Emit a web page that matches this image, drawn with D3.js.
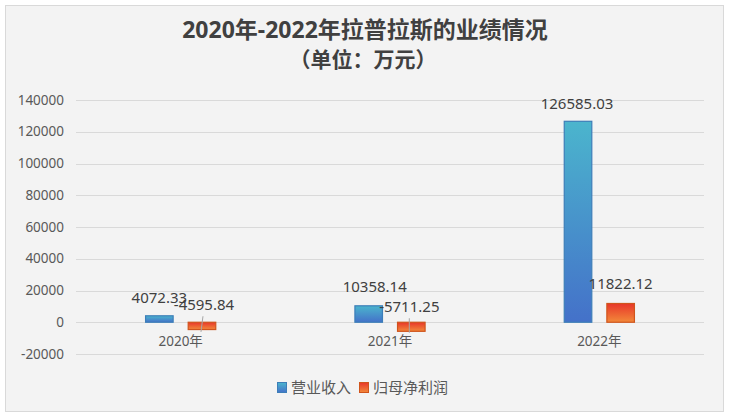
<!DOCTYPE html>
<html><head><meta charset="utf-8">
<script src="https://cdn.jsdelivr.net/npm/d3@7"></script>
<style>
html,body{margin:0;padding:0;background:#fff;}
svg{display:block;}
text{font-family:"Noto Sans","Noto Sans CJK SC",sans-serif;}
</style></head>
<body>
<svg id="chart" width="730" height="417"></svg>
<script>
const categories = ["2020年", "2021年", "2022年"];
const seriesNames = ["营业收入", "归母净利润"];
const revenue = [4072.33, 10358.14, 126585.03];
const netProfit = [-4595.84, -5711.25, 11822.12];
const yTicks = [-20000, 0, 20000, 40000, 60000, 80000, 100000, 120000, 140000];
const titleLines = ["2020年-2022年拉普拉斯的业绩情况", "（单位：万元）"];

const svg = d3.select("#chart");

// background + border
svg.append("rect").attr("x", 5.5).attr("y", 5.5).attr("width", 718).attr("height", 406)
  .attr("fill", "#f3f3f3").attr("stroke", "#d9d9d9").attr("stroke-width", 1);

// gradients
const defs = svg.append("defs");
function grad(id, top, bottom) {
  const g = defs.append("linearGradient").attr("id", id)
    .attr("x1", 0).attr("y1", 0).attr("x2", 0).attr("y2", 1);
  g.append("stop").attr("offset", "0%").attr("stop-color", top);
  g.append("stop").attr("offset", "100%").attr("stop-color", bottom);
}
grad("gBlue", "#4bb5cd", "#4471c9");
grad("gOrange", "#e8362a", "#f2893a");
const fills = ["url(#gBlue)", "url(#gOrange)"];
const strokes = ["#3c7eb8", "#d0541c"];

// title
svg.append("text").attr("x", 365).attr("y", 38).attr("text-anchor", "middle")
  .attr("font-family", "'Noto Sans CJK SC',sans-serif").attr("font-weight", "bold")
  .attr("font-size", 23).attr("fill", "#404040").text(titleLines[0]);
svg.append("text").attr("x", 363).attr("y", 67).attr("text-anchor", "middle")
  .attr("font-family", "'Noto Sans CJK SC',sans-serif").attr("font-weight", "bold")
  .attr("font-size", 21).attr("fill", "#404040").text(titleLines[1]);

// scales
const x = d3.scaleBand().domain(categories).range([76, 704]).paddingInner(0.66).paddingOuter(0.33);
const xs = d3.scaleBand().domain(seriesNames).range([0, x.bandwidth()]).paddingInner(0.33);
const y = d3.scaleLinear().domain([-20000, 140000]).range([354, 100]);

// grid
svg.append("g").selectAll("line").data(yTicks).join("line")
  .attr("x1", 76).attr("x2", 704)
  .attr("y1", d => Math.round(y(d)) + 0.5).attr("y2", d => Math.round(y(d)) + 0.5)
  .attr("stroke", "#d9d9d9").attr("stroke-width", 1);

// y axis labels
svg.append("g").selectAll("text").data(yTicks).join("text")
  .attr("x", 64).attr("y", d => y(d)).attr("dy", "0.35em").attr("text-anchor", "end")
  .attr("font-size", 13.5).attr("fill", "#595959").text(d => d);

// category labels
svg.append("g").selectAll("text").data(categories).join("text")
  .attr("x", d => x(d) + x.bandwidth() / 2).attr("y", 341).attr("dy", "0.35em")
  .attr("text-anchor", "middle").attr("font-family", "'Noto Sans','Noto Sans CJK SC',sans-serif")
  .attr("font-size", 13.5).attr("fill", "#595959").text(d => d);

const seriesVals = [revenue, netProfit];
const rows = [];
seriesVals.forEach((vals, si) => vals.forEach((v, ci) => rows.push({si, ci, v})));

// label layout tweaks (dx, dy relative to default above-bar position)
const labelAdj = {
  "0-0": [0, 0], "0-1": [6, -1], "0-2": [-1, 0],
  "1-0": [2, 0], "1-1": [-2, 2], "1-2": [0, -2]
};
function labelPos(d) {
  const cx = x(categories[d.ci]) + xs(seriesNames[d.si]) + xs.bandwidth() / 2;
  const cy = y(Math.max(d.v, 0)) - 18;
  const a = labelAdj[d.si + "-" + d.ci];
  return [cx + a[0], cy + a[1]];
}

// bars
svg.append("g").selectAll("rect").data(rows).join("rect")
  .attr("x", d => x(categories[d.ci]) + xs(seriesNames[d.si]) + 0.5)
  .attr("y", d => y(Math.max(d.v, 0)))
  .attr("width", xs.bandwidth() - 1)
  .attr("height", d => Math.abs(y(d.v) - y(0)))
  .attr("fill", d => fills[d.si]).attr("stroke", d => strokes[d.si]).attr("stroke-width", 1.2);

// leader lines for negative values
svg.append("g").selectAll("line").data(rows.filter(d => d.v < 0)).join("line")
  .attr("x1", d => labelPos(d)[0] - 1 + (d.ci === 1 ? 1 : 0))
  .attr("y1", d => labelPos(d)[1] + 12)
  .attr("x2", d => labelPos(d)[0] - 3 + (d.ci === 1 ? 3 : 0))
  .attr("y2", d => y(d.v) + (y(0) - y(d.v)) / 2 + 6)
  .attr("stroke", "#a6a6a6").attr("stroke-width", 1);

// data labels (on top of bars)
svg.append("g").selectAll("text").data(rows).join("text")
  .attr("x", d => labelPos(d)[0]).attr("y", d => labelPos(d)[1]).attr("dy", "0.35em")
  .attr("text-anchor", "middle").attr("font-size", 15).attr("fill", "#404040")
  .text(d => d.v.toFixed(2));

// legend
const legItems = [{name: seriesNames[0], x: 277}, {name: seriesNames[1], x: 359}];
const lg = svg.append("g");
legItems.forEach((it, i) => {
  lg.append("rect").attr("x", it.x + 0.5).attr("y", 382.5).attr("width", 9).attr("height", 10)
    .attr("fill", fills[i]).attr("stroke", strokes[i]).attr("stroke-width", 1);
  lg.append("text").attr("x", it.x + 14).attr("y", 387.5).attr("dy", "0.35em")
    .attr("font-family", "'Noto Sans CJK SC',sans-serif").attr("font-size", 15)
    .attr("fill", "#595959").text(it.name);
});
</script>
</body></html>
